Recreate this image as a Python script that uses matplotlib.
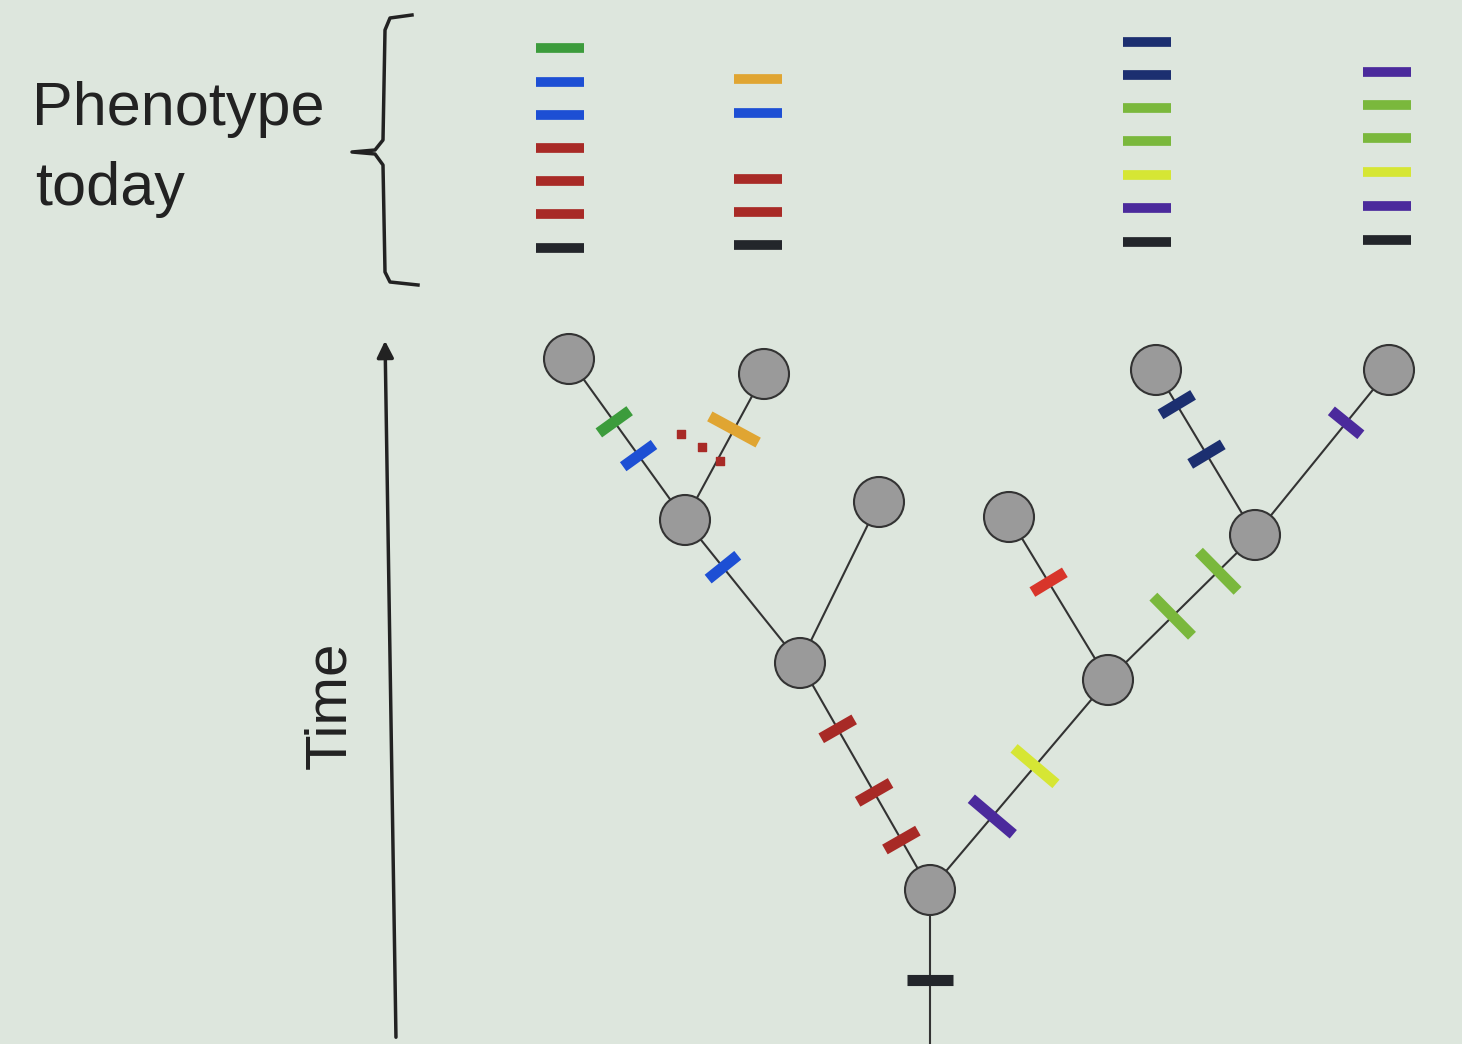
import matplotlib.pyplot as plt
import numpy as np

plt.rcParams['font.family'] = ['Liberation Sans', 'DejaVu Sans']

# tree nodes (pixel coords of the original picture)
nodes = {
    "R": (930, 890), "A": (800, 663), "B": (685, 520),
    "L1": (569, 359), "L2": (764, 374), "L3": (879, 502),
    "C": (1108, 680), "L4": (1009, 517), "D": (1255, 535),
    "L5": (1156, 370), "L6": (1389, 370),
}
edges = [("R", "A"), ("A", "B"), ("B", "L1"), ("B", "L2"), ("A", "L3"),
         ("R", "C"), ("C", "L4"), ("C", "D"), ("D", "L5"), ("D", "L6")]

GREEN, BLUE, RED, BLACK = "#3c9c3c", "#1d4fd4", "#a82a26", "#23262b"
ORANGE, NAVY, LGREEN, YEL, PURP = "#e0a532", "#1c2f70", "#7ab83c", "#d6e634", "#4b2a9c"
BRED = "#d8352a"

# mutation marks: (edge, fraction from parent, colour, length)
marks = [
    (("R", "A"), 0.22, RED, 38), (("R", "A"), 0.43, RED, 38), (("R", "A"), 0.71, RED, 38),
    (("A", "B"), 0.67, BLUE, 38),
    (("B", "L1"), 0.40, BLUE, 38), (("B", "L1"), 0.61, GREEN, 38),
    (("B", "L2"), 0.62, ORANGE, 55),
    (("R", "C"), 0.35, PURP, 55), (("R", "C"), 0.59, YEL, 55),
    (("C", "L4"), 0.60, BRED, 38),
    (("C", "D"), 0.44, LGREEN, 55), (("C", "D"), 0.75, LGREEN, 55),
    (("D", "L5"), 0.49, NAVY, 38), (("D", "L5"), 0.79, NAVY, 38),
    (("D", "L6"), 0.68, PURP, 38),
]
dots_x = [681, 702, 720]
dots_y = [434, 447, 461]

# phenotype stacks
stack_x = [560, 758, 1147, 1387]
stack_y = [[48, 82, 115, 148, 181, 214, 248],
           [79, 113, 179, 212, 245],
           [42, 75, 108, 141, 175, 208, 242],
           [72, 105, 138, 172, 206, 240]]
stack_c = [[GREEN, BLUE, BLUE, RED, RED, RED, BLACK],
           [ORANGE, BLUE, RED, RED, BLACK],
           [NAVY, NAVY, LGREEN, LGREEN, YEL, PURP, BLACK],
           [PURP, LGREEN, LGREEN, YEL, PURP, BLACK]]

fig = plt.figure(figsize=(14.62, 10.44), dpi=100)
fig.patch.set_facecolor("#dde6dd")
ax = fig.add_axes([0, 0, 1, 1])
ax.set_facecolor("#dde6dd")
ax.set_xlim(0, 1462)
ax.set_ylim(1044, 0)
ax.axis("off")

# trunk and edges
ax.plot([930, 930], [890, 1044], color="#333333", lw=1.5, zorder=1)
for a, b in edges:
    (x0, y0), (x1, y1) = nodes[a], nodes[b]
    ax.plot([x0, x1], [y0, y1], color="#333333", lw=1.5, zorder=1)

ax.plot([907, 953], [980, 980], color=BLACK, lw=8, solid_capstyle="butt", zorder=3)
for (a, b), f, c, L in marks:
    (x0, y0), (x1, y1) = nodes[a], nodes[b]
    px, py = x0 + f * (x1 - x0), y0 + f * (y1 - y0)
    d = np.array([x1 - x0, y1 - y0], float)
    d /= np.hypot(*d)
    n = np.array([-d[1], d[0]]) * L / 2
    ax.plot([px - n[0], px + n[0]], [py - n[1], py + n[1]], color=c, lw=8,
            solid_capstyle="butt", zorder=3)
ax.scatter(dots_x, dots_y, marker="s", s=40, color=RED, zorder=3)

for name, (x, y) in nodes.items():
    ax.add_patch(plt.Circle((x, y), 25, facecolor="#9a9a9a", edgecolor="#333333",
                            lw=1.5, zorder=4))

for x, ys, cs in zip(stack_x, stack_y, stack_c):
    for y, c in zip(ys, cs):
        ax.plot([x - 24, x + 24], [y, y], color=c, lw=7, solid_capstyle="butt")

# brace
ax.plot([412, 390, 385, 383, 375, 352, 375, 383, 385, 390, 418],
        [15, 18, 30, 140, 150, 152, 154, 165, 272, 282, 285], color="#222222", lw=2.5)
# time arrow
ax.annotate("", xy=(385, 338), xytext=(396, 1040),
            arrowprops=dict(arrowstyle="-|>", color="#222222", lw=2.5, mutation_scale=25))

ax.text(32, 110, "Phenotype", fontsize=44, va="center", ha="left", color="#222222")
ax.text(35, 190, "today", fontsize=44, va="center", ha="left", color="#222222")
ax.text(330, 705, "Time", fontsize=42, rotation=90, va="center", ha="center", color="#222222")

fig.savefig("out.png", dpi=100, facecolor=fig.get_facecolor())
